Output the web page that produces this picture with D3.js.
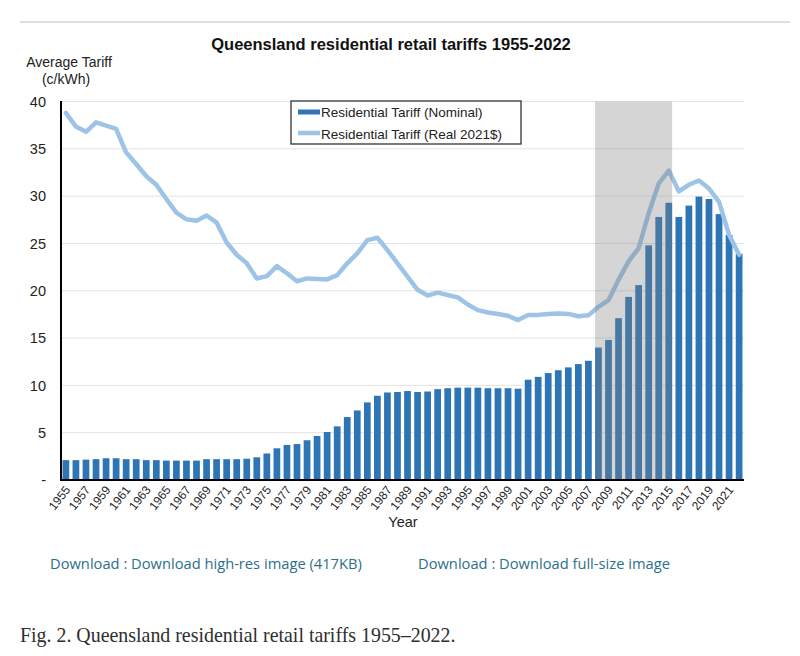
<!DOCTYPE html>
<html><head><meta charset="utf-8">
<script src="https://cdn.jsdelivr.net/npm/d3@7"></script>
<style>
body{margin:0;background:#fff;}
svg{display:block;}
</style></head>
<body>
<svg id="chart" width="800" height="656"></svg>
<script>
const years = d3.range(1955, 2023);
const nominal = [2.1,2.1,2.15,2.2,2.3,2.3,2.2,2.2,2.1,2.1,2.05,2.05,2.05,2.05,2.2,2.2,2.2,2.2,2.25,2.4,
  2.8,3.35,3.7,3.8,4.2,4.65,5.07,5.67,6.65,7.35,8.2,8.9,9.25,9.3,9.4,9.3,9.35,9.6,9.7,9.76,
  9.76,9.76,9.7,9.7,9.7,9.65,10.6,10.9,11.3,11.6,11.9,12.25,12.6,14.0,14.8,17.1,19.35,20.6,24.8,27.8,
  29.3,27.8,29.0,29.95,29.7,28.1,25.9,23.9];
const real = [38.8,37.35,36.8,37.8,37.45,37.1,34.6,33.4,32.1,31.2,29.7,28.25,27.55,27.4,27.95,27.2,25.1,23.8,22.9,21.3,
  21.55,22.6,21.85,21.0,21.3,21.25,21.2,21.65,22.9,23.95,25.35,25.6,24.3,22.9,21.5,20.1,19.5,19.8,19.55,19.3,
  18.55,17.95,17.7,17.55,17.35,16.9,17.45,17.45,17.55,17.6,17.55,17.3,17.4,18.3,19.0,21.15,23.1,24.5,28.2,31.35,
  32.7,30.5,31.2,31.65,30.8,29.4,25.9,23.8];
const yTicks = [0,5,10,15,20,25,30,35,40];
const yTickLabels = ["-","5","10","15","20","25","30","35","40"];
const shadeYears = [2008, 2015];
const legendLabels = ["Residential Tariff (Nominal)","Residential Tariff (Real 2021$)"];

const svg = d3.select("#chart");
const barColor = "#2e75b6", lineColor = "#9dc3e6";
const sans = "Liberation Sans, Arial, sans-serif";

// top rule
svg.append("line").attr("x1",20).attr("x2",790).attr("y1",22).attr("y2",22)
  .attr("stroke","#d4d4d4").attr("stroke-width",1.5);

const x = d3.scaleBand().domain(years).range([61,744]).paddingInner(0.33).paddingOuter(0.15);
const y = d3.scaleLinear().domain([0,40]).range([480,101.5]);

// gridlines
svg.append("g").selectAll("line").data(yTicks.slice(1)).join("line")
  .attr("x1",61).attr("x2",744).attr("y1",d=>y(d)).attr("y2",d=>y(d))
  .attr("stroke","#e3e3e3").attr("stroke-width",1);

// bars
svg.append("g").selectAll("rect").data(years).join("rect")
  .attr("x",d=>x(d)).attr("width",x.bandwidth())
  .attr("y",(d,i)=>y(nominal[i])).attr("height",(d,i)=>y(0)-y(nominal[i]))
  .attr("fill",barColor);

// line
const line = d3.line().x((d,i)=>x(years[i])+x.bandwidth()/2).y(d=>y(d)).curve(d3.curveLinear);
svg.append("path").datum(real).attr("d",line).attr("fill","none")
  .attr("stroke",lineColor).attr("stroke-width",4.5).attr("stroke-linejoin","round").attr("stroke-linecap","round");

// shaded region
svg.append("rect").attr("x",x(shadeYears[0])).attr("width",x(shadeYears[1])+x.bandwidth()-x(shadeYears[0]))
  .attr("y",y(40)).attr("height",y(0)-y(40)).attr("fill","#808080").attr("fill-opacity",0.33);

// axes
const yAxis = d3.axisLeft(y).tickValues(yTicks).tickFormat((d,i)=>yTickLabels[i]).tickSize(0).tickPadding(15);
const gy = svg.append("g").attr("transform","translate(61,0)").call(yAxis);
gy.select(".domain").remove();
gy.selectAll("text").attr("font-family",sans).attr("font-size",14.5).attr("fill","#222");
svg.append("line").attr("x1",61).attr("x2",61).attr("y1",101).attr("y2",481).attr("stroke","#000").attr("stroke-width",2);

const xAxis = d3.axisBottom(x).tickValues(years.filter((d,i)=>i%2===0)).tickSize(0).tickPadding(0);
const gx = svg.append("g").attr("transform","translate(0,480)").call(xAxis);
gx.select(".domain").remove();
gx.selectAll("text").attr("font-family",sans).attr("font-size",12).attr("fill","#222")
  .attr("text-anchor","end").attr("dy",0).attr("y",0)
  .attr("transform","translate(5,10) rotate(-52)");
svg.append("line").attr("x1",60).attr("x2",744).attr("y1",480).attr("y2",480).attr("stroke","#000").attr("stroke-width",2);

// titles
svg.append("text").attr("x",391).attr("y",50).attr("text-anchor","middle")
  .attr("font-family",sans).attr("font-weight","bold").attr("font-size",16.5)
  .attr("fill","#111").text("Queensland residential retail tariffs 1955-2022");
svg.append("text").attr("x",69).attr("y",67).attr("text-anchor","middle")
  .attr("font-family",sans).attr("font-size",14).attr("fill","#222").text("Average Tariff");
svg.append("text").attr("x",66).attr("y",84).attr("text-anchor","middle")
  .attr("font-family",sans).attr("font-size",14).attr("fill","#222").text("(c/kWh)");
svg.append("text").attr("x",403).attr("y",527).attr("text-anchor","middle")
  .attr("font-family",sans).attr("font-size",14.5).attr("fill","#222").text("Year");

// legend
const lg = svg.append("g");
lg.append("rect").attr("x",291).attr("y",101).attr("width",230).attr("height",43)
  .attr("fill","#fff").attr("stroke","#333").attr("stroke-width",1.3);
lg.append("rect").attr("x",298).attr("y",109.5).attr("width",22).attr("height",5).attr("fill",barColor);
lg.append("line").attr("x1",298).attr("x2",320).attr("y1",133).attr("y2",133)
  .attr("stroke",lineColor).attr("stroke-width",4.5);
lg.selectAll("text.l").data(legendLabels).join("text").attr("class","l")
  .attr("x",321).attr("y",(d,i)=>117+i*21.5)
  .attr("font-family",sans).attr("font-size",13.5).attr("fill","#222").text(d=>d);

// page text
const linkFont = "Open Sans, Noto Sans, sans-serif";
svg.append("text").attr("x",50).attr("y",569).attr("font-family",linkFont).attr("font-size",14.7)
  .attr("fill","#2d6f8d").text("Download : Download high-res image (417KB)");
svg.append("text").attr("x",418).attr("y",569).attr("font-family",linkFont).attr("font-size",14.7)
  .attr("fill","#2d6f8d").text("Download : Download full-size image");
svg.append("text").attr("x",20).attr("y",642).attr("font-family","Liberation Serif, DejaVu Serif, serif").attr("font-size",19.9)
  .attr("fill","#2e2e2e").text("Fig. 2. Queensland residential retail tariffs 1955–2022.");
</script>
</body></html>
